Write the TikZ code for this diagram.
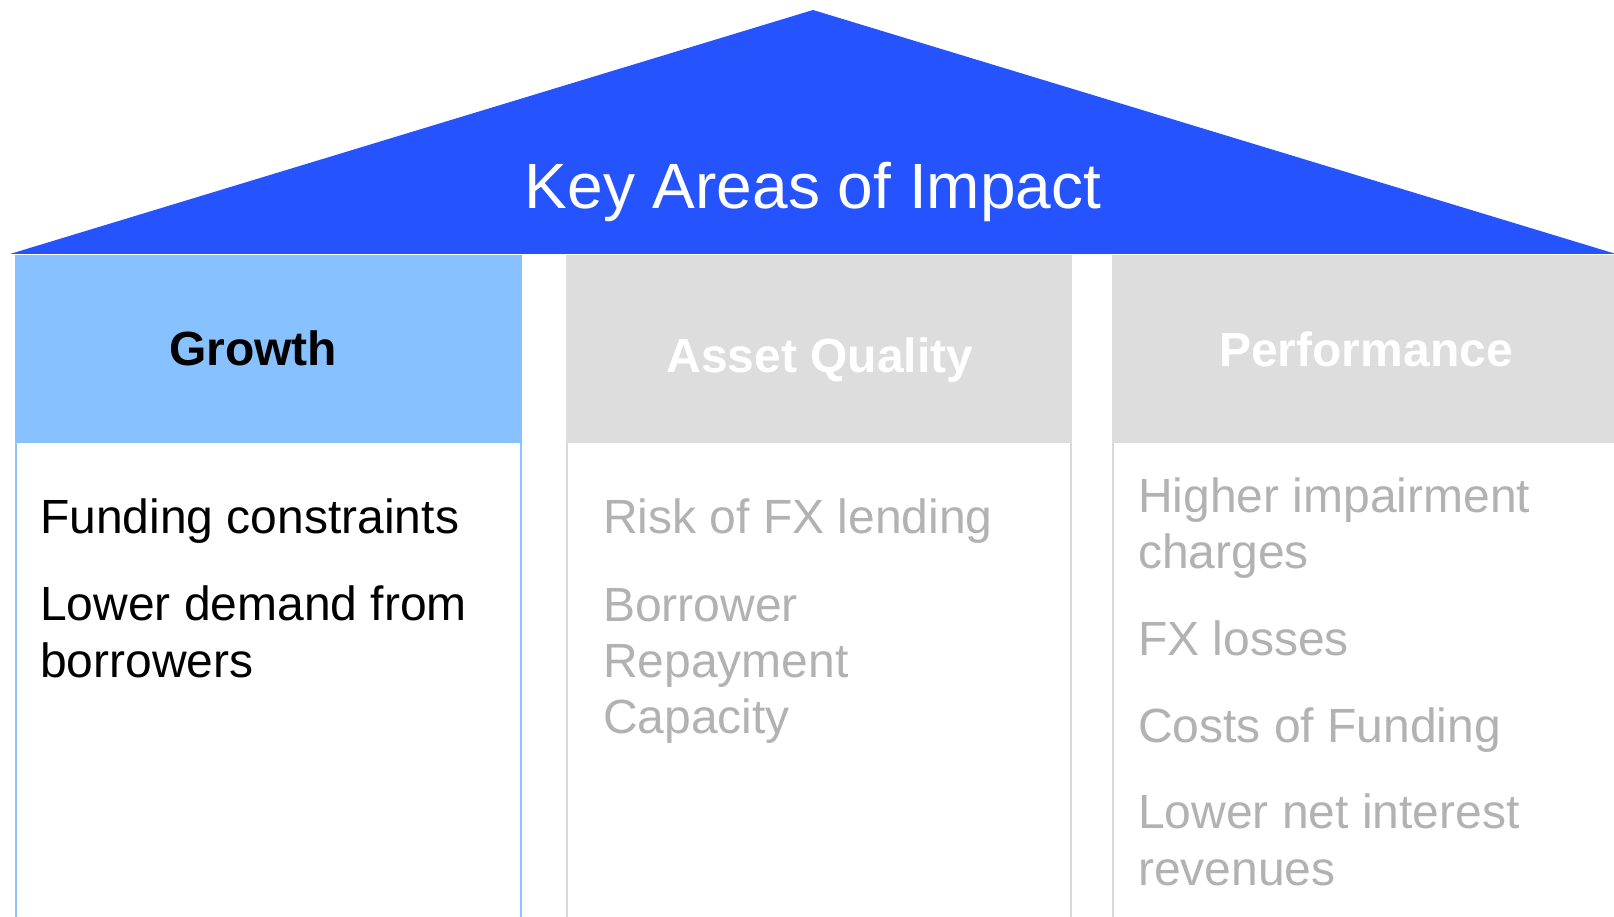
\documentclass[tikz,border=0pt]{standalone}
\usepackage{fontspec}
\setmainfont{Liberation Sans}
\definecolor{roofblue}{HTML}{2554FF}
\definecolor{growthblue}{HTML}{88C1FF}
\definecolor{growthline}{HTML}{8EC3FF}
\definecolor{headgray}{HTML}{DDDDDD}
\definecolor{linegray}{HTML}{D9D9D9}
\definecolor{textgray}{HTML}{B2B2B2}
\tikzset{
  bodytext/.style={anchor=base west, inner sep=0pt, font=\fontsize{48}{57}\selectfont},
  headtext/.style={anchor=base, inner sep=0pt, font=\fontsize{48}{58}\selectfont\bfseries},
}
\begin{document}
\begin{tikzpicture}[x=1pt,y=-1pt]
\useasboundingbox (0,0) rectangle (1614,917);
\fill[white] (0,0) rectangle (1614,917);
\begin{scope}
\clip (0,0) rectangle (1614,917);
% column bodies
\draw[growthline, line width=2pt] (16,443) -- (16,920) (521,443) -- (521,920);
\draw[linegray, line width=2pt] (567,443) -- (567,920) (1071,443) -- (1071,920);
\draw[linegray, line width=2pt] (1113,443) -- (1113,920);
% headers
\fill[growthblue] (15,255) rectangle (522,443);
\fill[headgray] (566,255) rectangle (1072,443);
\fill[headgray] (1112,255) rectangle (1620,443);
% roof
\fill[roofblue] (10,254) -- (813,10) -- (1616,254) -- cycle;
\end{scope}
\node[inner sep=0pt, anchor=base, text=white, font=\fontsize{64}{70}\selectfont] (title) at (813,209) {Key Areas of Impact};
\node[headtext, text=black] (h1) at (253,365) {Growth};
\node[headtext, text=white] (h2) at (820,372) {Asset Quality};
\node[headtext, text=white] (h3) at (1366,366) {Performance};
% growth items
\node[bodytext, text=black] (g1) at (40,533) {Funding constraints};
\node[bodytext, text=black] (g2a) at (40,620) {Lower demand from};
\node[bodytext, text=black] (g2b) at (40,677) {borrowers};
% asset quality items
\node[bodytext, text=textgray] (a1) at (603,533) {Risk of FX lending};
\node[bodytext, text=textgray] (a2a) at (603,621) {Borrower};
\node[bodytext, text=textgray] (a2b) at (603,677) {Repayment};
\node[bodytext, text=textgray] (a2c) at (603,733) {Capacity};
% performance items
\node[bodytext, text=textgray] (p1a) at (1138,512) {Higher impairment};
\node[bodytext, text=textgray] (p1b) at (1138,568) {charges};
\node[bodytext, text=textgray] (p2) at (1138,655) {FX losses};
\node[bodytext, text=textgray] (p3) at (1138,742) {Costs of Funding};
\node[bodytext, text=textgray] (p4a) at (1138,828) {Lower net interest};
\node[bodytext, text=textgray] (p4b) at (1138,885) {revenues};
\end{tikzpicture}
\end{document}
